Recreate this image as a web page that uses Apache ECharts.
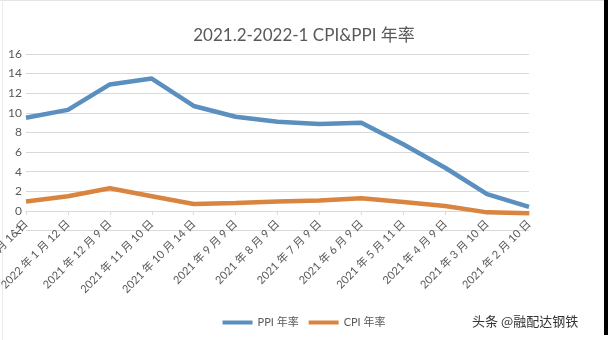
<!DOCTYPE html>
<html>
<head>
<meta charset="utf-8">
<script src="https://cdn.jsdelivr.net/npm/echarts@6/dist/echarts.min.js"></script>
<style>
html,body{margin:0;padding:0;background:#fff;}
#c{width:608px;height:340px;}
</style>
</head>
<body>
<div id="c"></div>
<script>
var categories = ['2022 年 2 月 16 日','2022 年 1 月 12 日','2021 年 12 月 9 日','2021 年 11 月 10 日','2021 年 10 月 14 日','2021 年 9 月 9 日','2021 年 8 月 9 日','2021 年 7 月 9 日','2021 年 6 月 9 日','2021 年 5 月 11 日','2021 年 4 月 9 日','2021 年 3 月 10 日','2021 年 2 月 10 日'];
var ppi = [9.5, 10.3, 12.9, 13.5, 10.7, 9.6, 9.1, 8.85, 9.0, 6.8, 4.4, 1.7, 0.4];
var cpi = [0.95, 1.5, 2.3, 1.5, 0.7, 0.8, 0.95, 1.05, 1.3, 0.9, 0.5, -0.15, -0.25];
var seriesNames = ['PPI 年率', 'CPI 年率'];
var titleText = '2021.2-2022-1 CPI&PPI 年率';
var watermark = '头条 @融配达钢铁';
var yMin = -2, yMax = 16, yStep = 2;

var FONT = 'Lato, "Noto Sans CJK SC", sans-serif';
var gridTop = 54, gridBottom = 109.5, H = 340;
var unitPx = (H - gridTop - gridBottom) / (yMax - yMin);
var chart = echarts.init(document.getElementById('c'), null, {renderer: 'canvas'});
chart.setOption({
  animation: false,
  backgroundColor: '#fff',
  title: {
    text: titleText,
    left: 'center',
    top: 22,
    textStyle: {fontFamily: FONT, fontSize: 17, fontWeight: 'normal', color: '#595959'}
  },
  legend: {
    data: seriesNames,
    bottom: 7,
    left: 'center',
    icon: 'rect',
    itemWidth: 30,
    itemHeight: 4,
    itemGap: 10,
    textStyle: {fontFamily: FONT, fontSize: 11, color: '#595959'}
  },
  grid: {left: 26, right: 79, top: gridTop, bottom: gridBottom, containLabel: false, outerBoundsMode: 'none'},
  xAxis: {
    type: 'category',
    data: categories,
    boundaryGap: false,
    offset: -(0 - yMin) * unitPx,
    axisLine: {onZero: false, lineStyle: {color: '#d9d9d9', width: 1}},
    axisTick: {show: true, length: 4, lineStyle: {color: '#d9d9d9'}},
    axisLabel: {rotate: 45, margin: 11, interval: 0, hideOverlap: false, fontFamily: FONT, fontSize: 11, color: '#595959'}
  },
  yAxis: {
    type: 'value',
    min: yMin, max: yMax, interval: yStep,
    axisLine: {show: false},
    axisTick: {show: false},
    splitLine: {lineStyle: {color: '#d9d9d9', width: 1}},
    axisLabel: {margin: 4, fontFamily: FONT, fontSize: 12, color: '#595959'}
  },
  series: [
    {name: seriesNames[0], type: 'line', data: ppi, showSymbol: false, symbol: 'none',
     lineStyle: {width: 4.5, color: '#5b8fbf'}, itemStyle: {color: '#5b8fbf'}},
    {name: seriesNames[1], type: 'line', data: cpi, showSymbol: false, symbol: 'none',
     lineStyle: {width: 4.5, color: '#d9843f'}, itemStyle: {color: '#d9843f'}}
  ],
  graphic: [
    {type: 'rect', left: 604, top: 0, shape: {width: 4, height: 335}, style: {fill: '#000'}},
    {type: 'rect', left: 0, top: 0, shape: {width: 604, height: 1}, style: {fill: '#e4e4e4'}},
    {type: 'rect', left: 2, top: 0, shape: {width: 1, height: 340}, style: {fill: '#ececec'}},
    {type: 'text', left: 472, top: 315, style: {text: watermark, fill: '#333', font: '13px "Noto Sans CJK SC", sans-serif'}}
  ]
});
</script>
</body>
</html>
